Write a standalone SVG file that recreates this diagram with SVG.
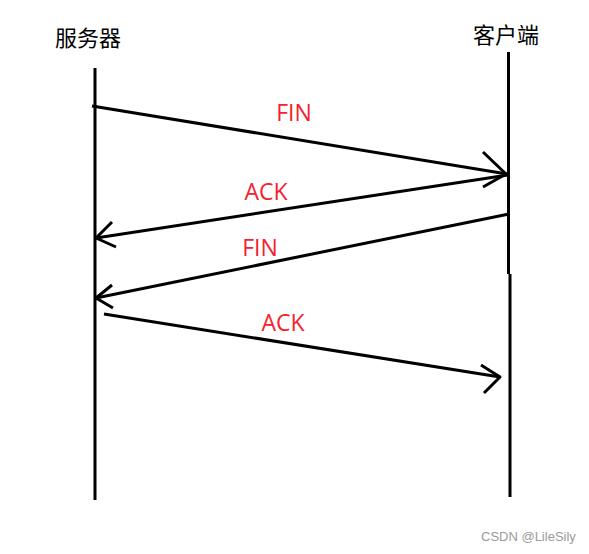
<svg xmlns="http://www.w3.org/2000/svg" width="589" height="554" viewBox="0 0 589 554">
<style>
.ln{stroke:#000;stroke-width:3;fill:none;stroke-linecap:butt;stroke-linejoin:round}
.hd{font-family:"Noto Sans CJK SC","Noto Sans",sans-serif;font-size:22px;fill:#000}
.lb{font-family:"Open Sans","Noto Sans",sans-serif;font-size:23px;fill:#f5222d}
.wm{font-family:"Liberation Sans",Arial,sans-serif;font-size:13px;fill:#9a9a9a}
</style>
<rect width="589" height="554" fill="#fff"/>
<g id="server">
<text class="hd" x="55" y="46">服务器</text>
<line class="ln" x1="95" y1="68" x2="95" y2="500"/>
</g>
<g id="client">
<text class="hd" x="473" y="43">客户端</text>
<line class="ln" x1="508.5" y1="52" x2="508.5" y2="274"/>
<line class="ln" x1="510" y1="274" x2="510" y2="497"/>
</g>
<g id="connectors">
<g id="fin1">
<polyline class="ln" points="92,106 507,174"/>
<polyline class="ln" points="483,152 506,174 483,187"/>
<text class="lb" x="294" y="121" text-anchor="middle">FIN</text>
</g>
<g id="ack1">
<polyline class="ln" points="508,175 96,238"/>
<polyline class="ln" points="112,222 96,238 116,247"/>
<text class="lb" x="266" y="200" text-anchor="middle">ACK</text>
</g>
<g id="fin2">
<polyline class="ln" points="509,214 96,298"/>
<polyline class="ln" points="112,285 96,298 113,308"/>
<text class="lb" x="260" y="256" text-anchor="middle">FIN</text>
</g>
<g id="ack2">
<polyline class="ln" points="104,314 500,377"/>
<polyline class="ln" points="481,365 500,377 484,393"/>
<text class="lb" x="283" y="331" text-anchor="middle">ACK</text>
</g>
</g>
<text class="wm" x="481" y="541">CSDN @LileSily</text>
</svg>
